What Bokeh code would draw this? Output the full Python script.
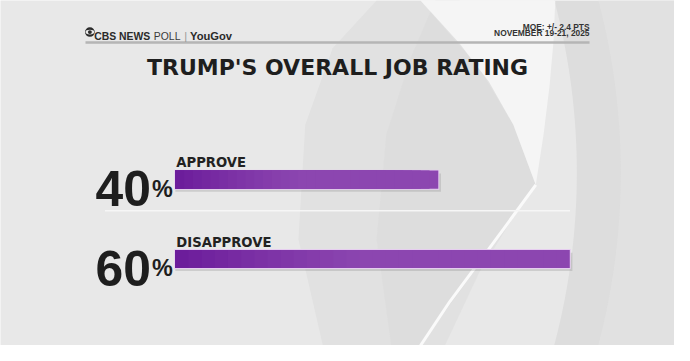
import numpy as np
from bokeh.plotting import figure
from bokeh.models import Range1d
from bokeh.core.properties import value
from bokeh.embed import file_html
from bokeh.resources import INLINE

# ---------------- data ----------------
title = "TRUMP'S OVERALL JOB RATING"
categories = ["APPROVE", "DISAPPROVE"]
values = [40, 60]
moe_lines = ["MOE: +/- 2.4 PTS", "NOVEMBER 19-21, 2025"]
header_parts = ["CBS NEWS", "POLL", "|", "YouGov"]

# ---------------- layout (design grid is 690 x 361) ----------------
W, H = 674, 345
GW, GH = 690, 361
S = W / GW                  # font scale
PX_PER_PCT = 6.73           # design pixels per percentage point
BAR_X0 = 179                # design pixel where bars start
row_y = [187.5, 270.5]      # bar centre lines
BAR_H = 19


def fs(px):
    return "%.1fpx" % (px * S)


x0 = (0 - BAR_X0) / PX_PER_PCT
x1 = (GW - BAR_X0) / PX_PER_PCT

p = figure(width=W, height=H, x_range=Range1d(x0, x1), y_range=Range1d(GH, 0),
           output_backend="svg", toolbar_location=None, min_border=0)
p.extra_x_ranges = {"px": Range1d(0, GW)}
p.axis.visible = False
p.grid.visible = False
p.outline_line_color = None
p.background_fill_color = "#e8e8e8"
p.border_fill_color = "#e8e8e8"

# ---------------- background decoration ----------------
cx, cy, r = -126, 180, 716
ys = np.linspace(0, GH, 80)
xs = cx + np.sqrt(r ** 2 - (ys - cy) ** 2)
p.patch(list(xs) + [GW, GW], list(ys) + [GH, 0], fill_color="#dddddd",
        line_color=None, x_range_name="px")
p.patch(list(xs + 45) + [GW, GW], list(ys) + [GH, 0], fill_color="#e3e3e3",
        line_color=None, x_range_name="px", fill_alpha=0.7)

# soft grey lens shape
lens_x = [430, 490, 525, 548, 505, 470, 430, 330, 305, 312, 340, 385]
lens_y = [0, 70, 130, 193, 255, 305, 361, 361, 250, 130, 50, 0]
p.patch(lens_x, lens_y, fill_color="#e1e1e1", line_color=None, x_range_name="px")
lens2_x = [470, 515, 540, 548, 520, 490, 455, 400, 385, 395, 420, 445]
lens2_y = [0, 80, 150, 193, 235, 285, 361, 361, 250, 140, 60, 0]
p.patch(lens2_x, lens2_y, fill_color="#d9d9d9", line_color=None, x_range_name="px",
        fill_alpha=0.45)

# bright crescent
cr_x = [430, 470, 500, 525, 548, 556, 562, 566, 568]
cr_y = [0, 45, 85, 130, 193, 140, 90, 45, 0]
p.patch(cr_x, cr_y, fill_color="#f5f5f5", line_color=None, x_range_name="px")
p.line([548, 500, 460, 430], [193, 260, 315, 361], line_color="#fafafa", line_width=3,
       x_range_name="px")

# ---------------- header ----------------
p.line([87, 603], [44, 44], line_color="#b5b5b5", line_width=2.5, x_range_name="px")
p.ellipse(x=[91.5], y=[33], width=10, height=10, fill_color="#2a2a2a", line_color=None,
          x_range_name="px")
p.ellipse(x=[91.5], y=[33], width=9, height=5, fill_color="#e8e8e8", line_color=None,
          x_range_name="px")
p.ellipse(x=[91.5], y=[33], width=4, height=4, fill_color="#2a2a2a", line_color=None,
          x_range_name="px")

hx = [96, 157, 188, 194]
hstyle = ["bold", "normal", "normal", "bold"]
hcol = ["#2a2a2a", "#3a3a3a", "#999999", "#2a2a2a"]
hsize = [10.6, 10.6, 11.5, 11.5]
for t, x, st, c, sz in zip(header_parts, hx, hstyle, hcol, hsize):
    p.text(x=[x], y=[37.5], text=[t], text_font=value("Liberation Sans"),
           text_font_size=fs(sz), text_font_style=st, text_color=c,
           text_baseline="alphabetic", text_align="left", x_range_name="px")

for t, yb in zip(moe_lines, [27.3, 34]):
    p.text(x=[603], y=[yb], text=[t], text_font=value("Liberation Sans"),
           text_font_size=fs(8.6), text_font_style="bold", text_color="#333333",
           text_baseline="alphabetic", text_align="right", x_range_name="px")

p.text(x=[345], y=[70.5], text=[title], text_font=value("DejaVu Sans"),
       text_font_size=fs(22.5), text_font_style="bold", text_color="#1e1e1e",
       text_baseline="alphabetic", text_align="center", x_range_name="px")

# separator
p.line([107, 583], [220, 220], line_color="#f6f6f6", line_width=1.5, x_range_name="px")

# ---------------- bars ----------------
p.hbar(y=[y + 3 for y in row_y], height=BAR_H, left=0, right=[v + 0.4 for v in values],
       fill_color="#6f6f6f", fill_alpha=0.22, line_color=None)
p.hbar(y=row_y, height=BAR_H + 2, left=-0.15, right=[v + 0.15 for v in values],
       fill_color="#e6cdf0", line_color=None)

# gradient: nested bars, each shorter one darker, drawn on top
N = 30
c0 = np.array([0x6a, 0x1a, 0x9a])
c1 = np.array([0x8c, 0x46, 0xb0])
for k in range(N):
    frac = 1.0 - k / N                 # fraction of bar length covered
    rights = [v * frac for v in values]
    t = max(0.0, 1.0 - frac / 0.5)     # darkening only within the left half
    c = (c1 + (c0 - c1) * t ** 1.2).astype(int)
    p.hbar(y=row_y, height=BAR_H, left=0, right=rights,
           fill_color="#%02x%02x%02x" % tuple(c), line_color=None)

# ---------------- labels ----------------
bar_bottom = [y + BAR_H / 2 for y in row_y]
bar_top = [y - BAR_H / 2 for y in row_y]
num_x = [BAR_X0 - 25] * len(values)
pct_x = [BAR_X0 - 24] * len(values)
numfont = value("Liberation Sans")
p.text(x=num_x, y=bar_bottom, text=[str(v) for v in values],
       text_font=numfont, text_font_size=fs(51), text_font_style="bold",
       text_color="#1e1e1e", text_baseline="alphabetic", text_align="right",
       x_range_name="px")
p.text(x=pct_x, y=bar_bottom, text=["%"] * len(values),
       text_font=numfont, text_font_size=fs(24), text_font_style="bold",
       text_color="#1e1e1e", text_baseline="alphabetic", text_align="left",
       x_range_name="px")
p.text(x=[BAR_X0 + 1] * len(values), y=[t - 8 for t in bar_top], text=categories,
       text_font=value("DejaVu Sans"), text_font_size=fs(13.5), text_font_style="bold",
       text_color="#222222", text_baseline="alphabetic", text_align="left",
       x_range_name="px")

open("out.html", "w").write(file_html(p, INLINE))
